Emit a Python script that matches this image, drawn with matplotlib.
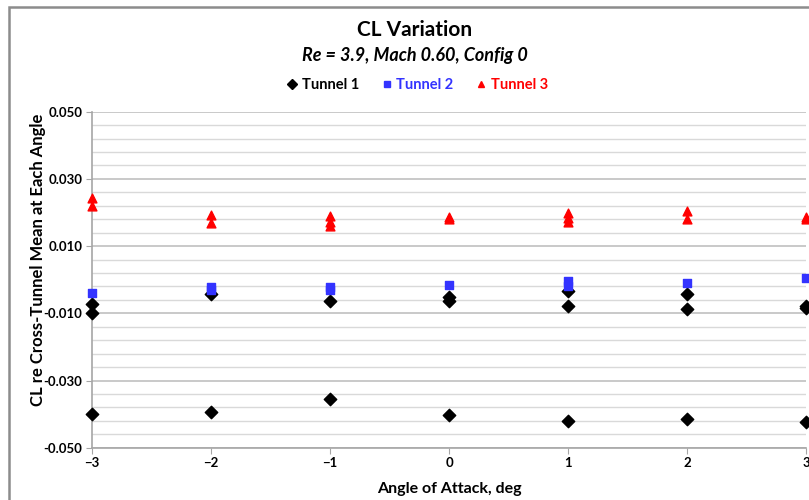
import matplotlib
matplotlib.use("Agg")
import matplotlib.pyplot as plt
from matplotlib.lines import Line2D
from matplotlib.patches import Rectangle

# Data
t1_x = [-3, -3, -3, -2, -2, -1, -1, 0, 0, 0, 1, 1, 1, 2, 2, 2, 3, 3, 3]
t1_y = [-0.0073, -0.0100, -0.0399, -0.0044, -0.0393, -0.0062, -0.0356,
        -0.0050, -0.0064, -0.0404, -0.0035, -0.0077, -0.0421,
        -0.0044, -0.0088, -0.0416, -0.0078, -0.0083, -0.0423]
t2_x = [-3, -2, -2, -1, -1, 0, 1, 1, 2, 3]
t2_y = [-0.0041, -0.0023, -0.0032, -0.0022, -0.0031, -0.0017,
        -0.0005, -0.0018, -0.0010, 0.0006]
t3_x = [-3, -3, -2, -2, -1, -1, -1, 0, 0, 1, 1, 1, 2, 2, 3, 3]
t3_y = [0.0243, 0.0220, 0.0192, 0.0168, 0.0190, 0.0173, 0.0161,
        0.0187, 0.0181, 0.0198, 0.0184, 0.0172, 0.0203, 0.0180,
        0.0186, 0.0181]
x_ticks = [-3, -2, -1, 0, 1, 2, 3]
y_ticks = [-0.050, -0.030, -0.010, 0.010, 0.030, 0.050]

FONT = ["Lato", "DejaVu Sans"]
plt.rcParams['font.family'] = FONT

W, H = 809, 500
fig = plt.figure(figsize=(W / 100, H / 100), dpi=100)

# outer chart frame (partially cropped)
fig.patches.append(Rectangle((9 / W, -0.1), 1.2, 1 - 7 / H + 0.1,
                             transform=fig.transFigure, fill=False,
                             edgecolor="#8c8c8c", linewidth=1.8))

left, right = 92 / W, 806 / W
top, bottom = 1 - 111.7 / H, 1 - 447.7 / H
ax = fig.add_axes([left, bottom, right - left, top - bottom])

ax.set_xlim(-3, 3)
ax.set_ylim(-0.05, 0.05)
ax.set_xticks(x_ticks)
ax.set_yticks(y_ticks)
ax.set_yticks([v / 1000 for v in range(-50, 51, 4)], minor=True)
ax.set_yticklabels([f"{v:.3f}" for v in y_ticks])
ax.tick_params(axis='y', which='minor', length=0)
ax.tick_params(axis='both', which='major', length=4, color="#a6a6a6",
               labelsize=9.5, pad=3)
for lab in ax.get_xticklabels() + ax.get_yticklabels():
    lab.set_fontweight('bold')
ax.grid(True, axis='y', which='minor', color="#d9d9d9", linewidth=1.0)
ax.grid(True, axis='y', which='major', color="#c0c0c0", linewidth=1.2)
ax.set_axisbelow(True)
for s in ['top', 'right']:
    ax.spines[s].set_visible(False)
for s in ['left', 'bottom']:
    ax.spines[s].set_color("#a6a6a6")
    ax.spines[s].set_linewidth(1.2)

ax.scatter(t1_x, t1_y, marker='D', s=40, color='black', zorder=3, clip_on=False)
ax.scatter(t2_x, t2_y, marker='s', s=36, color='#3333ff', zorder=3, clip_on=False)
ax.scatter(t3_x, t3_y, marker='^', s=40, color='#ff0000', zorder=3, clip_on=False)

ax.set_xlabel("Angle of Attack, deg", fontsize=11.5, fontweight='bold', labelpad=9)
ax.set_ylabel("CL re Cross-Tunnel Mean at Each Angle", fontsize=12,
              fontweight='bold', labelpad=4)
ax.yaxis.set_label_coords(-0.064, (447.7 - 260) / 336)

fig.text(415 / W, 1 - 30 / H, "CL Variation", ha='center', va='center',
         fontsize=15, fontweight='bold')
fig.text(415 / W, 1 - 55 / H, "Re = 3.9, Mach 0.60, Config 0", ha='center',
         va='center', fontsize=13, fontweight='bold', style='italic')

handles = [Line2D([], [], marker='D', ls='', color='black', ms=5),
           Line2D([], [], marker='s', ls='', color='#3333ff', ms=5),
           Line2D([], [], marker='^', ls='', color='#ff0000', ms=5)]
leg = fig.legend(handles, ["Tunnel 1", "Tunnel 2", "Tunnel 3"],
                 loc='center', bbox_to_anchor=(418 / W, 1 - 85 / H), ncol=3,
                 frameon=False, handlelength=0.6, handletextpad=0.35,
                 columnspacing=1.6, prop={'weight': 'bold', 'size': 10.5})
for txt, c in zip(leg.get_texts(), ['black', '#3333ff', '#ff0000']):
    txt.set_color(c)

fig.savefig("out.png", dpi=100)
